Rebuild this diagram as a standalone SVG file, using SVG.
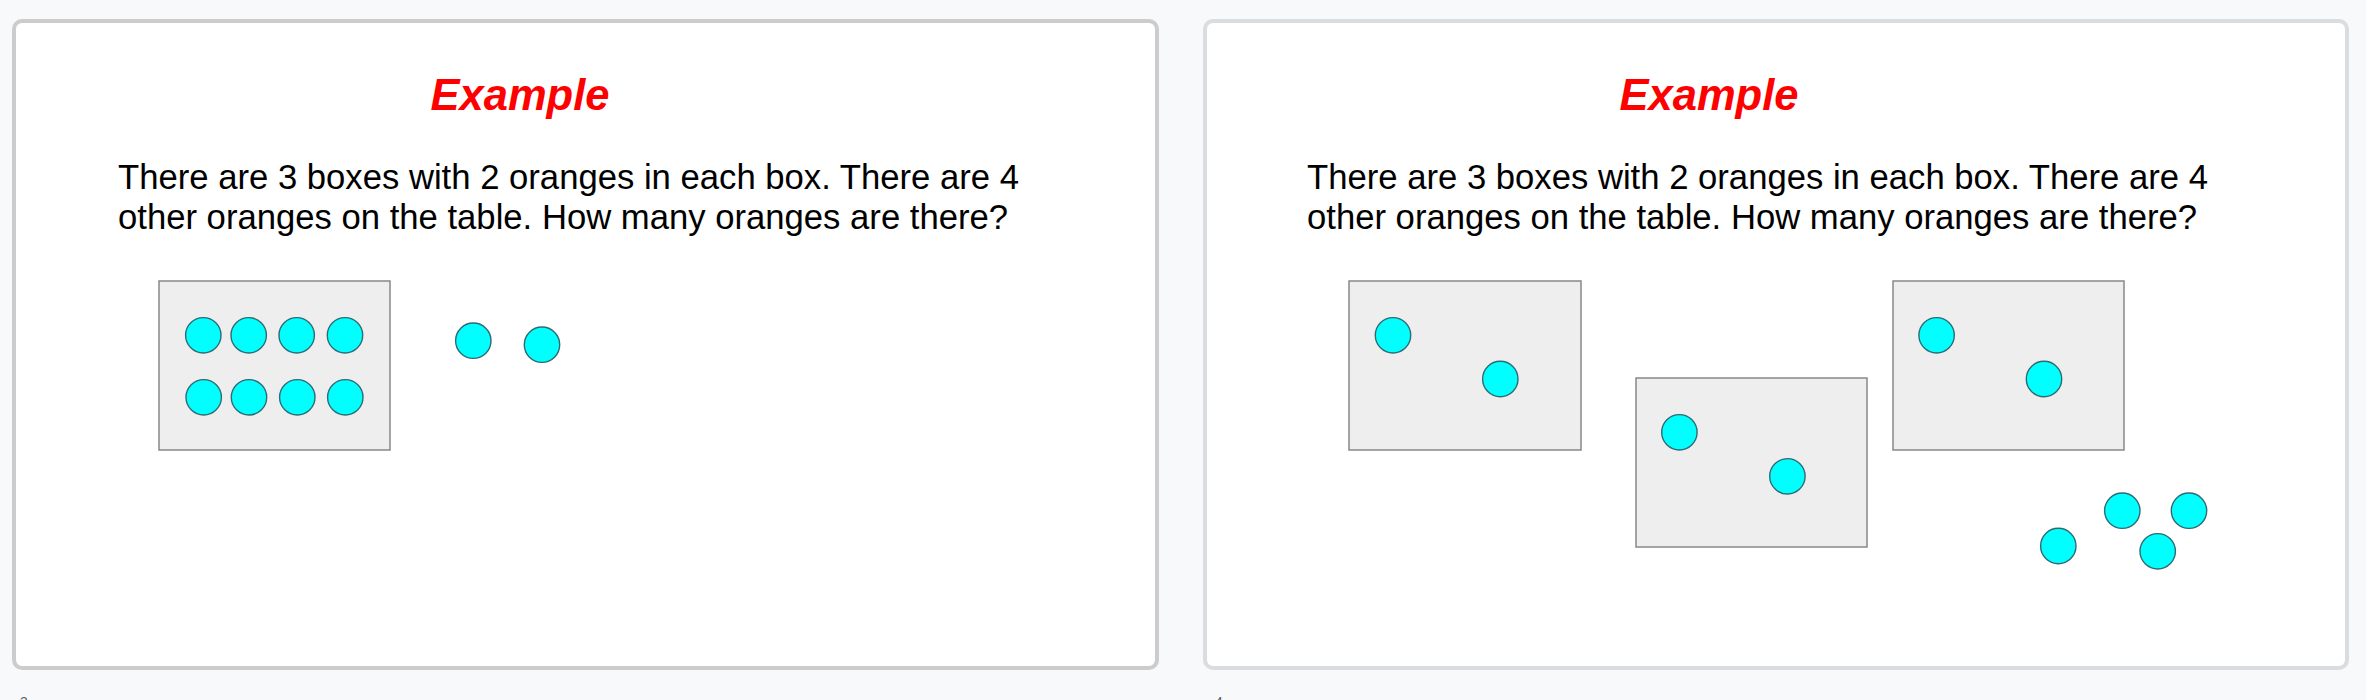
<svg xmlns="http://www.w3.org/2000/svg" width="2366" height="700" viewBox="0 0 2366 700">
<style>
.panel{fill:#ffffff;stroke-width:4}
.title{font-family:"Liberation Sans",Arial,sans-serif;font-size:43.5px;font-weight:bold;font-style:italic;fill:#ff0000;text-anchor:middle}
.body{font-family:"Liberation Sans",Arial,sans-serif;font-size:34.67px;fill:#000000}
.box{fill:#eeeeee;stroke:#888888;stroke-width:1.5}
.orange{fill:#00ffff;stroke:#2e6b72;stroke-width:1.4}
.num{font-family:"Liberation Sans",Arial,sans-serif;font-size:14px;fill:#5f6368}
</style>
<rect width="2366" height="700" fill="#f8f9fa"/>
<g id="slide3">
<rect class="panel" x="14" y="21" width="1143" height="647" rx="8" stroke="#cccccc"/>
<text class="title" x="520" y="110">Example</text>
<text class="body" x="118" y="188.5">There are 3 boxes with 2 oranges in each box. There are 4</text>
<text class="body" x="118" y="228.5">other oranges on the table. How many oranges are there?</text>
<g id="box-a">
<rect class="box" x="159" y="281" width="231" height="169"/>
<circle class="orange" cx="203.3" cy="335.3" r="17.7"/>
<circle class="orange" cx="248.7" cy="335.3" r="17.7"/>
<circle class="orange" cx="296.7" cy="335.3" r="17.7"/>
<circle class="orange" cx="345" cy="335.3" r="17.7"/>
<circle class="orange" cx="203.7" cy="397.3" r="17.7"/>
<circle class="orange" cx="249" cy="397.3" r="17.7"/>
<circle class="orange" cx="297.3" cy="397.3" r="17.7"/>
<circle class="orange" cx="345.3" cy="397.3" r="17.7"/>
</g>
<g id="loose-a">
<circle class="orange" cx="473.3" cy="340.7" r="17.7"/>
<circle class="orange" cx="542" cy="344.7" r="17.7"/>
</g>
<text class="num" x="20" y="707">3</text>
</g>
<g id="slide4">
<rect class="panel" x="1205" y="21" width="1142" height="647" rx="8" stroke="#dadce0"/>
<text class="title" x="1709" y="110">Example</text>
<text class="body" x="1307" y="188.5">There are 3 boxes with 2 oranges in each box. There are 4</text>
<text class="body" x="1307" y="228.5">other oranges on the table. How many oranges are there?</text>
<g id="box-1">
<rect class="box" x="1349" y="281" width="232" height="169"/>
<circle class="orange" cx="1393" cy="335.3" r="17.7"/>
<circle class="orange" cx="1500.3" cy="379" r="17.7"/>
</g>
<g id="box-2">
<rect class="box" x="1636" y="378" width="231" height="169"/>
<circle class="orange" cx="1679.4" cy="432.3" r="17.7"/>
<circle class="orange" cx="1787.4" cy="476.3" r="17.7"/>
</g>
<g id="box-3">
<rect class="box" x="1893" y="281" width="231" height="169"/>
<circle class="orange" cx="1936.6" cy="335.3" r="17.7"/>
<circle class="orange" cx="2044" cy="379" r="17.7"/>
</g>
<g id="loose-b">
<circle class="orange" cx="2058.3" cy="546" r="17.7"/>
<circle class="orange" cx="2122.3" cy="510.7" r="17.7"/>
<circle class="orange" cx="2189" cy="510.7" r="17.7"/>
<circle class="orange" cx="2157.7" cy="551.3" r="17.7"/>
</g>
<text class="num" x="1215" y="707">4</text>
</g>
</svg>
